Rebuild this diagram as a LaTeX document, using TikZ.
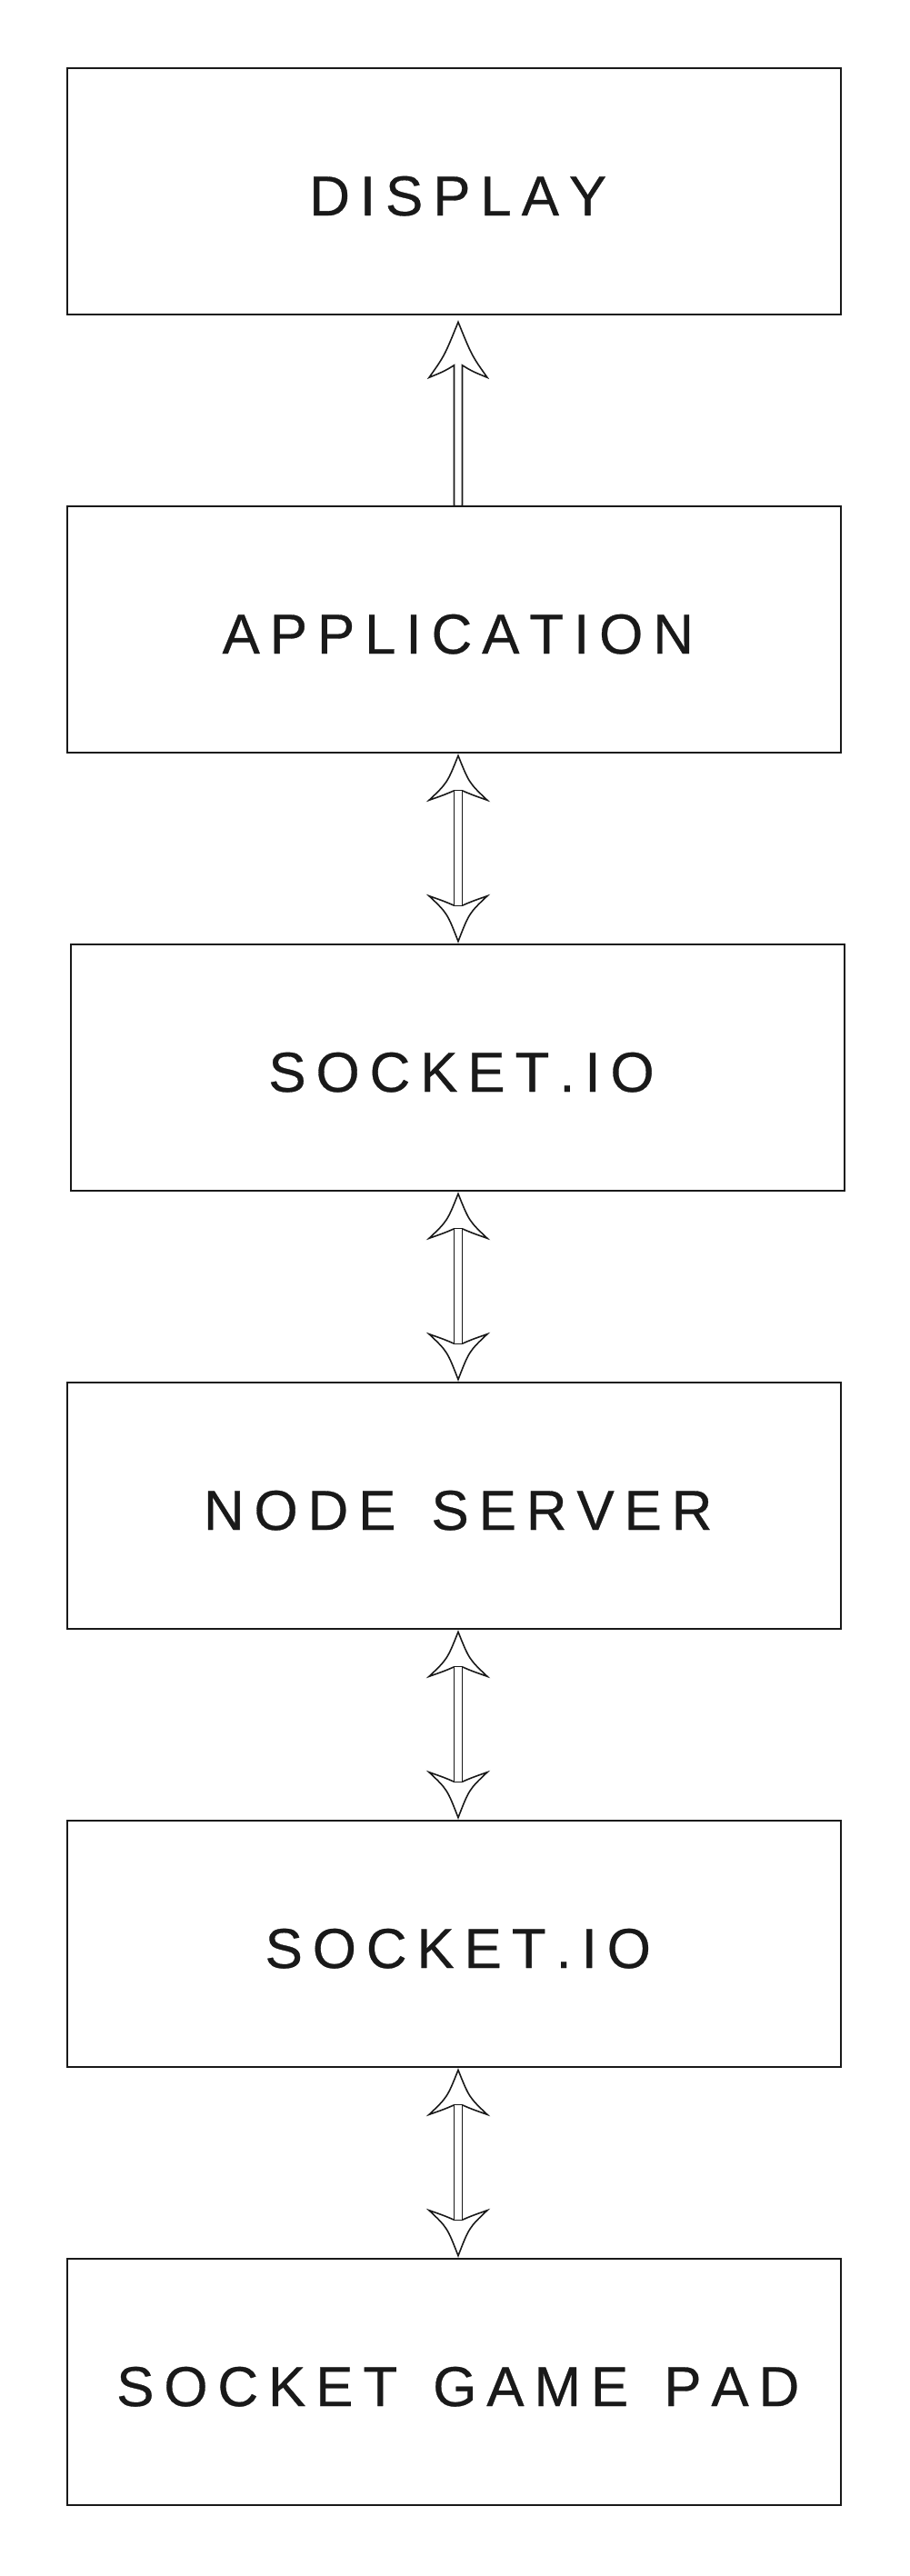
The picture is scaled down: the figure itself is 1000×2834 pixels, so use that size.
\documentclass[tikz,border=0pt]{standalone}
\usepackage{fontspec}
\setmainfont{Liberation Sans}
\newfontfamily\labfont[FakeBold=0.5]{Liberation Sans}
\usetikzlibrary{calc}
\def\trk#1{\kern0.189cm\trkA#1\relax}
\def\trkA#1{\ifx#1\relax\else#1\kern0.109cm\expandafter\trkA\fi}
\tikzset{
  box/.style={draw=black!90, line width=0.57pt, minimum width=8.505cm, minimum height=2.715cm,
    inner sep=0pt, outer sep=0pt, text height=0.53cm, text depth=0pt,
    font=\labfont\fontsize{17.6pt}{20pt}\selectfont, text=black!90},
  arr/.style={draw=black!90, line width=0.45pt, fill=white, line join=miter}
}
\newcommand\dblarr[2]{%
  \coordinate (T) at (#1.south -| ax);
  \coordinate (B) at (#2.north -| ax);
  \draw[arr] ($(T)+(-4.5,41.5)$) .. controls ($(T)+(-15,46)$) .. ($(T)+(-32,52)$)
     .. controls ($(T)+(-12,33)$) .. ($(T)+(0,3)$)
     .. controls ($(T)+(12,33)$) .. ($(T)+(32,52)$)
     .. controls ($(T)+(15,46)$) .. ($(T)+(4.5,41.5)$) -- cycle;
  \draw[arr] ($(B)+(-4.5,-42.5)$) .. controls ($(B)+(-15,-47)$) .. ($(B)+(-32,-53)$)
     .. controls ($(B)+(-12,-34)$) .. ($(B)+(0,-3)$)
     .. controls ($(B)+(12,-34)$) .. ($(B)+(32,-53)$)
     .. controls ($(B)+(15,-47)$) .. ($(B)+(4.5,-42.5)$) -- cycle;
  \draw[arr] ($(T)+(-4.5,41)$) rectangle ($(B)+(4.5,-42)$);
}
\begin{document}
\begin{tikzpicture}[x=0.01cm, y=-0.01cm]
\useasboundingbox[fill=white] (0,0) rectangle (1000,2834);
\coordinate (ax) at (504,0);
\node[box] (b1) at (499.75,210.5)  {\trk{DISPLAY}};
\node[box] (b2) at (499.75,692.5)  {\trk{APPLICATION}};
\node[box] (b3) at (503.5,1174.5)  {\trk{SOCKET.IO}};
\node[box] (b4) at (499.75,1656.5) {\trk{NODE\ SERVER}};
\node[box] (b5) at (499.75,2138.5) {\trk{SOCKET.IO}};
\node[box] (b6) at (499.75,2620.5) {\trk{SOCKET\ GAME\ PAD}};
% single arrow application -> display
\coordinate (T1) at (b1.south -| ax);
\coordinate (B1) at (b2.north -| ax);
\draw[arr] ($(B1)+(-4.5,0)$) -- ($(T1)+(-4.5,55.5)$)
   .. controls ($(T1)+(-15,62)$) .. ($(T1)+(-32,69)$)
   .. controls ($(T1)+(-15,45)$) .. ($(T1)+(0,8)$)
   .. controls ($(T1)+(15,45)$) .. ($(T1)+(32,69)$)
   .. controls ($(T1)+(15,62)$) .. ($(T1)+(4.5,55.5)$)
   -- ($(B1)+(4.5,0)$) -- cycle;
\dblarr{b2}{b3}
\dblarr{b3}{b4}
\dblarr{b4}{b5}
\dblarr{b5}{b6}
\end{tikzpicture}
\end{document}
